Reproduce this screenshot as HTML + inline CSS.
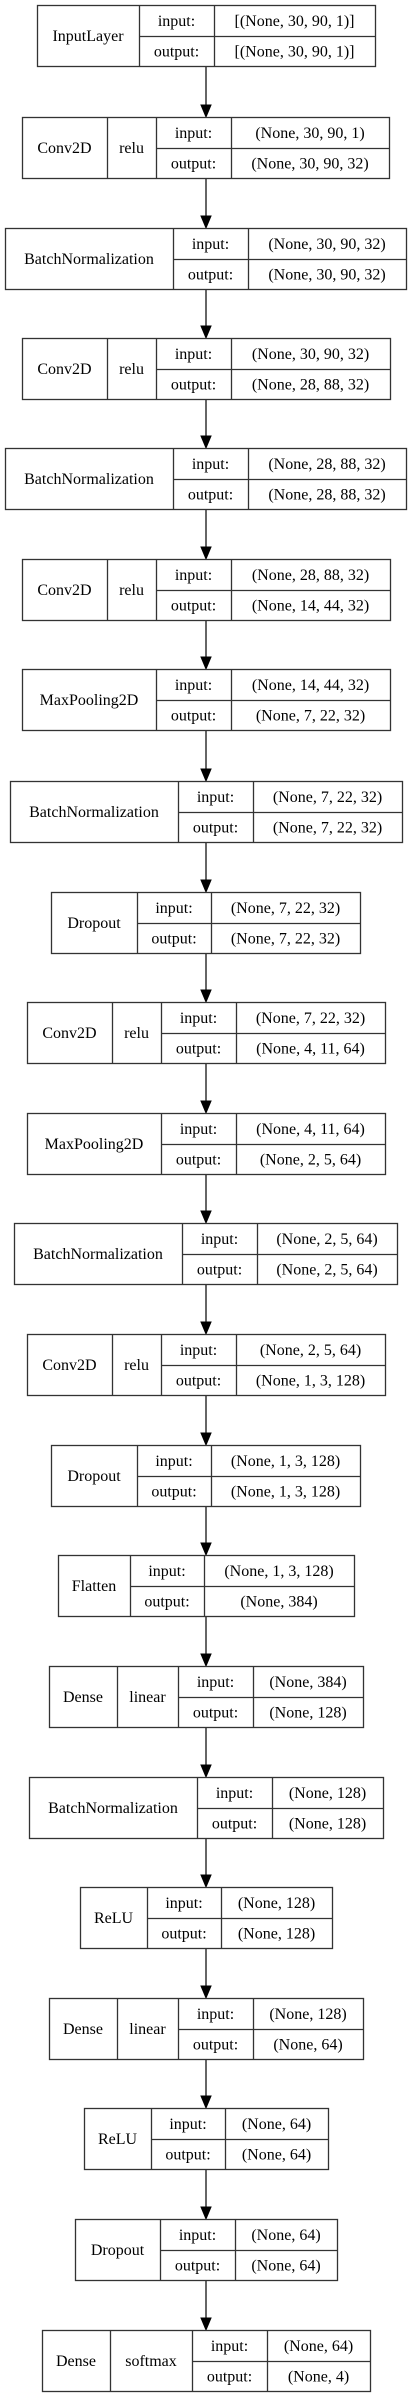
<!DOCTYPE html>
<html><head><meta charset="utf-8"><style>
html,body{margin:0;padding:0;background:#fff;width:412px;height:2397px;overflow:hidden}
svg{display:block}
text{font-family:"Liberation Serif",serif;font-size:16px;fill:#000}
</style></head><body>
<svg id="g" width="412" height="2397" viewBox="0 0 412 2397"></svg>
<script>
const layerNames=["InputLayer","Conv2D","BatchNormalization","Conv2D","BatchNormalization","Conv2D","MaxPooling2D","BatchNormalization","Dropout","Conv2D","MaxPooling2D","BatchNormalization","Conv2D","Dropout","Flatten","Dense","BatchNormalization","ReLU","Dense","ReLU","Dropout","Dense"];
const activations=["","relu","","relu","","relu","","","","relu","","","relu","","","linear","","","linear","","","softmax"];
const inputShapes=["[(None, 30, 90, 1)]","(None, 30, 90, 1)","(None, 30, 90, 32)","(None, 30, 90, 32)","(None, 28, 88, 32)","(None, 28, 88, 32)","(None, 14, 44, 32)","(None, 7, 22, 32)","(None, 7, 22, 32)","(None, 7, 22, 32)","(None, 4, 11, 64)","(None, 2, 5, 64)","(None, 2, 5, 64)","(None, 1, 3, 128)","(None, 1, 3, 128)","(None, 384)","(None, 128)","(None, 128)","(None, 128)","(None, 64)","(None, 64)","(None, 64)"];
const outputShapes=["[(None, 30, 90, 1)]","(None, 30, 90, 32)","(None, 30, 90, 32)","(None, 28, 88, 32)","(None, 28, 88, 32)","(None, 14, 44, 32)","(None, 7, 22, 32)","(None, 7, 22, 32)","(None, 7, 22, 32)","(None, 4, 11, 64)","(None, 2, 5, 64)","(None, 2, 5, 64)","(None, 1, 3, 128)","(None, 1, 3, 128)","(None, 384)","(None, 128)","(None, 128)","(None, 128)","(None, 64)","(None, 64)","(None, 64)","(None, 4)"];
const boxes=[[37,375,[139,214],5],[22,389,[107,156,231],117],[5,406,[173,248],228],[22,390,[107,156,231],338],[5,406,[173,248],448],[22,390,[107,156,231],559],[22,390,[156,231],669],[10,402,[178,253],781],[51,360,[137,211],892],[27,385,[112,161,236],1002],[27,385,[161,236],1113],[14,397,[182,257],1223],[27,385,[112,161,236],1334],[51,360,[137,211],1445],[58,354,[130,204],1555],[49,363,[117,178,253],1666],[29,383,[197,272],1777],[80,332,[147,221],1887],[49,363,[117,178,253],1998],[84,328,[151,225],2108],[75,337,[160,235],2219],[42,370,[110,192,267],2330]];
const H=61,NS="http://www.w3.org/2000/svg",svg=document.getElementById('g');
function mk(t,a,p){const e=document.createElementNS(NS,t);for(const k in a)e.setAttribute(k,a[k]);(p||svg).appendChild(e);return e;}
function txt(x,y,s,p){const e=mk('text',{x:x,y:y,'text-anchor':'middle','dominant-baseline':'central'},p);e.textContent=s;return e;}
boxes.forEach((b,i)=>{
  const [l,r,d,t]=b;
  const g=mk('g',{});
  
  
  mk('rect',{x:l+0.5,y:t+0.5,width:r-l,height:H,fill:'#fff',stroke:'#333','stroke-width':1.3},g);
  d.forEach(x=>mk('line',{x1:x+0.5,y1:t,x2:x+0.5,y2:t+H+1,stroke:'#333','stroke-width':1.3},g));
  const a=d.length-2, b0=d[a], b1=d[a+1];
  mk('line',{x1:b0,y1:t+H/2+1,x2:r,y2:t+H/2+1,stroke:'#333','stroke-width':1.3},g);
  const cy=t+H/2+1;
  const n=txt((l+d[0])/2,cy,layerNames[i],g);
  
  if(d.length===3){const ac=txt((d[0]+d[1])/2,cy,activations[i],g);}
  const q1=t+H/4+1,q2=t+3*H/4+1;
  txt((b0+b1)/2,q1,'input:',g);
  txt((b0+b1)/2,q2,'output:',g);
  const ii=txt((b1+r)/2,q1,inputShapes[i],g);
  const oo=txt((b1+r)/2,q2,outputShapes[i],g);
  if(i<boxes.length-1){
    const y0=t+H+1,y1=boxes[i+1][3];
    const ag=mk('g',{});
    
    
    mk('line',{x1:206,y1:y0,x2:206,y2:y1-11,stroke:'#333','stroke-width':1.5},ag);
    mk('polygon',{points:`201,${y1-12} 211,${y1-12} 206,${y1}`,fill:'#000',stroke:'#000'},ag);
  }
});
</script>
</body></html>
